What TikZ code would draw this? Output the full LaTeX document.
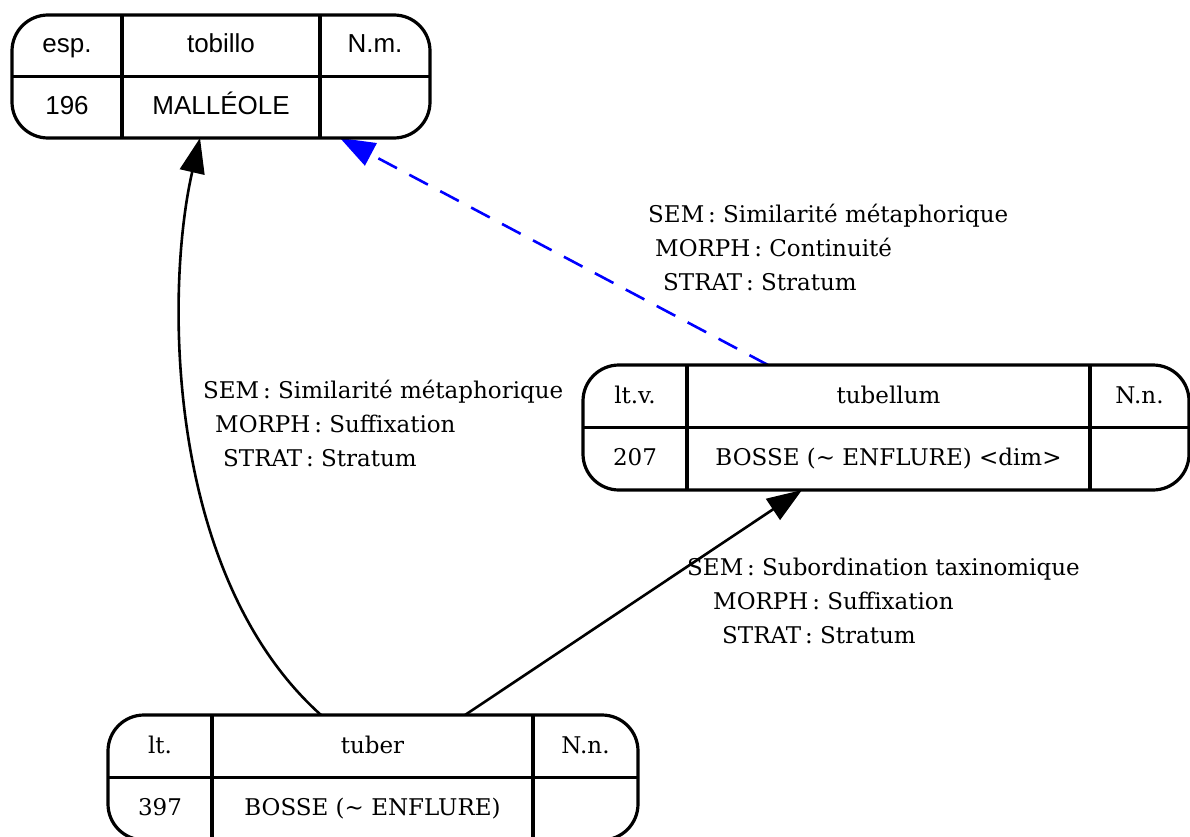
\documentclass[tikz,border=0pt]{standalone}
\usepackage{fontspec}
\setmainfont{DejaVu Serif}
\newfontfamily\recsans{Liberation Sans}
\usetikzlibrary{arrows.meta,backgrounds}

\begin{document}
\begin{tikzpicture}[x=1pt,y=-1pt,
  record/.style={draw, line width=3.2pt, rounded corners=36pt, fill=white,
    inner sep=0pt, outer sep=0pt},
  divider/.style={line width=3.2pt},
  cell/.style={anchor=base, inner sep=0pt, font=\fontsize{23}{28}\selectfont},
  sanscell/.style={anchor=base, inner sep=0pt, font=\recsans\fontsize{26}{30}\selectfont},
  edgelabel/.style={anchor=base west, inner sep=0pt, font=\fontsize{23}{34}\selectfont},
  link/.style={line width=2.6pt, -{Triangle[length=35pt,width=25pt]}},
  metaphor/.style={link, blue, dash pattern=on 21pt off 14pt}]

\useasboundingbox (0,0) rectangle (1190,837);

% ---- records ----
\node[record, minimum width=418pt, minimum height=123pt] (tobillo) at (221,76.5) {};
\draw[divider] (tobillo.west) -- (tobillo.east);
\draw[divider] (122,15) -- (122,138);
\draw[divider] (320,15) -- (320,138);
\node[sanscell] (tobillo-cat)   at (67,53)   {esp.};
\node[sanscell] (tobillo-lemma) at (221,53)  {tobillo};
\node[sanscell] (tobillo-gram)  at (375,53)  {N.m.};
\node[sanscell] (tobillo-num)   at (67,115)  {196};
\node[sanscell] (tobillo-sense) at (221,115) {MALLÉOLE};

\node[record, minimum width=606pt, minimum height=125pt] (tubellum) at (886,427.5) {};
\draw[divider] (tubellum.west) -- (tubellum.east);
\draw[divider] (687,365) -- (687,490);
\draw[divider] (1090,365) -- (1090,490);
\node[cell] (tubellum-cat)   at (635,403)    {lt.v.};
\node[cell] (tubellum-lemma) at (888.5,403)  {tubellum};
\node[cell] (tubellum-gram)  at (1139.5,403) {N.n.};
\node[cell] (tubellum-num)   at (635,465)    {207};
\node[cell] (tubellum-sense) at (888.5,465)  {BOSSE (\textasciitilde{} ENFLURE) <dim>};

\node[record, minimum width=530pt, minimum height=125pt] (tuber) at (373,777.5) {};
\draw[divider] (tuber.west) -- (tuber.east);
\draw[divider] (212,715) -- (212,840);
\draw[divider] (533,715) -- (533,840);
\node[cell] (tuber-cat)   at (160,753)   {lt.};
\node[cell] (tuber-lemma) at (372.5,753) {tuber};
\node[cell] (tuber-gram)  at (585.5,753) {N.n.};
\node[cell] (tuber-num)   at (160,815)   {397};
\node[cell] (tuber-sense) at (372.5,815) {BOSSE (\textasciitilde{} ENFLURE)};

% ---- relations ----
\begin{pgfonlayer}{background}
\draw[link] ([xshift=213pt]tuber.north west) .. controls (165,575) and (165,290) .. ([xshift=188pt]tobillo.south west);
\draw[link] ([xshift=357pt]tuber.north west) -- ([xshift=219pt]tubellum.south west);
\draw[metaphor] ([xshift=185pt]tubellum.north west) -- ([xshift=328pt]tobillo.south west);
\end{pgfonlayer}

% ---- relation labels ----
\node[edgelabel] (lab-tuber-tobillo) at (203,398) {\begin{tabular}[t]{@{}l@{}}
  SEM\,: Similarité métaphorique\\
  \hspace*{12pt}MORPH\,: Suffixation\\
  \hspace*{20pt}STRAT\,: Stratum\end{tabular}};
\node[edgelabel] (lab-tubellum-tobillo) at (648,222) {\begin{tabular}[t]{@{}l@{}}
  SEM\,: Similarité métaphorique\\
  \hspace*{7pt}MORPH\,: Continuité\\
  \hspace*{15pt}STRAT\,: Stratum\end{tabular}};
\node[edgelabel] (lab-tuber-tubellum) at (687,575) {\begin{tabular}[t]{@{}l@{}}
  SEM\,: Subordination taxinomique\\
  \hspace*{26pt}MORPH\,: Suffixation\\
  \hspace*{35pt}STRAT\,: Stratum\end{tabular}};
\end{tikzpicture}
\end{document}
